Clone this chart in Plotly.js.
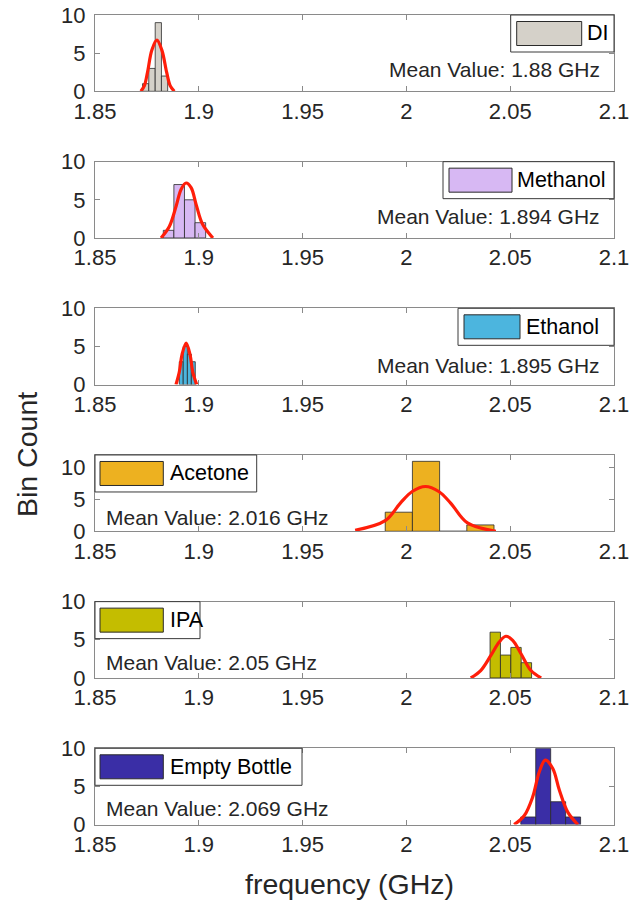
<!DOCTYPE html>
<html><head><meta charset="utf-8">
<script src="https://cdn.plot.ly/plotly-3.0.1.min.js"></script>
<style>html,body{margin:0;padding:0;background:#fff}</style>
</head><body><div id="chart" style="width:631px;height:905px"></div>
<script>
// ---------- data ----------
const sampleNames = ['DI', 'Methanol', 'Ethanol', 'Acetone', 'IPA', 'Empty Bottle'];
const meanLabels = ['Mean Value: 1.88 GHz', 'Mean Value: 1.894 GHz', 'Mean Value: 1.895 GHz',
                    'Mean Value: 2.016 GHz', 'Mean Value: 2.05 GHz', 'Mean Value: 2.069 GHz'];
const xTickVals = [1.85, 1.9, 1.95, 2, 2.05, 2.1];
const xTickText = ['1.85', '1.9', '1.95', '2', '2.05', '2.1'];
const yTickVals = [0, 5, 10];
const yTickText = ['0', '5', '10'];
const yMax = [10, 10, 10, 12, 10, 10];

// histogram bin edges (GHz) and counts
const diEdges = [1.8729, 1.8759, 1.8790, 1.8820, 1.8850];
const diCounts = [1, 3, 9, 2];
const methanolEdges = [1.8829, 1.8880, 1.8931, 1.8982, 1.9033];
const methanolCounts = [1, 7, 5, 2];
const ethanolEdges = [1.8906, 1.8925, 1.8945, 1.8964, 1.8983];
const ethanolCounts = [3, 5, 4, 3];
const acetoneEdges = [1.9898, 2.0029, 2.0160, 2.0291, 2.0422];
const acetoneCounts = [3, 11, 0, 1];
const ipaEdges = [2.0403, 2.0453, 2.0503, 2.0553, 2.0603];
const ipaCounts = [6, 3, 4, 2];
const emptyEdges = [2.0551, 2.0623, 2.0695, 2.0767, 2.0839];
const emptyCounts = [1, 10, 3, 1];

// fitted normal curves
const diFitX = [1.8721, 1.8738, 1.8753, 1.8774, 1.8798, 1.8822, 1.8845, 1.8862, 1.8882];
const diFitY = [0, 0.75, 2.5, 5.4, 6.7, 5.4, 2.5, 0.75, 0];
const methanolFitX = [1.8818, 1.8858, 1.8891, 1.8915, 1.8939, 1.8963, 1.8987, 1.9019, 1.9068];
const methanolFitY = [0, 1.5, 4.2, 6.4, 7.2, 6.6, 4.4, 1.75, 0];
const ethanolFitX = [1.8890, 1.8906, 1.8919, 1.8939, 1.8958, 1.8971, 1.8990];
const ethanolFitY = [0, 1.65, 3.9, 5.45, 3.9, 1.65, 0];
const acetoneFitX = [1.9753, 1.9898, 1.9971, 2.0028, 2.0092, 2.0156, 2.0213, 2.0294, 2.0431];
const acetoneFitY = [0.16, 1.67, 4.44, 6.26, 7.04, 6.26, 4.44, 1.31, 0];
const ipaFitX = [2.0310, 2.0358, 2.0407, 2.0447, 2.0479, 2.0512, 2.0552, 2.0600, 2.0649];
const ipaFitY = [0, 0.97, 2.95, 4.7, 5.46, 4.93, 3.17, 0.97, 0];
const emptyFitX = [2.0519, 2.0568, 2.0608, 2.0640, 2.0669, 2.0705, 2.0737, 2.0778, 2.0826];
const emptyFitY = [0, 1.19, 3.6, 6.9, 8.45, 7.36, 4.5, 1.6, 0];

const barColors = ['#d5d1c9', '#d7b8f3', '#4cb5de', '#edb120', '#c4bd00', '#3a2ea6'];

// ---------- build ----------
const allEdges = [diEdges, methanolEdges, ethanolEdges, acetoneEdges, ipaEdges, emptyEdges];
const allCounts = [diCounts, methanolCounts, ethanolCounts, acetoneCounts, ipaCounts, emptyCounts];
const allFitX = [diFitX, methanolFitX, ethanolFitX, acetoneFitX, ipaFitX, emptyFitX];
const allFitY = [diFitY, methanolFitY, ethanolFitY, acetoneFitY, ipaFitY, emptyFitY];

const FONT = 'Liberation Sans, Arial, Helvetica, sans-serif';
const TXT = '#262626';
const W = 631, H = 905;
const L = 95, R = 17, T = 15, B = 80;
const PW = W - L - R, PH = H - T - B;
const px2x = p => (p - L) / PW;
const py2y = p => (H - B - p) / PH;
const step = 146.66, axH = 76.3;

const traces = [];
const layout = {
  width: W, height: H,
  margin: {l: L, r: R, t: T, b: B},
  paper_bgcolor: '#fff', plot_bgcolor: '#fff',
  showlegend: false, bargap: 0,
  font: {family: FONT, color: TXT, size: 22},
  shapes: [], annotations: []
};

for (let k = 0; k < 6; k++) {
  const s = k === 0 ? '' : String(k + 1);
  const edges = allEdges[k];
  const centers = [], widths = [];
  for (let i = 0; i < edges.length - 1; i++) {
    centers.push((edges[i] + edges[i + 1]) / 2);
    widths.push(edges[i + 1] - edges[i]);
  }
  traces.push({
    type: 'bar', x: centers, y: allCounts[k], width: widths,
    xaxis: 'x' + s, yaxis: 'y' + s, name: sampleNames[k],
    marker: {color: barColors[k], line: {color: '#2a2a2a', width: 0.8}},
    hoverinfo: 'x+y'
  });
  traces.push({
    type: 'scatter', mode: 'lines', x: allFitX[k], y: allFitY[k],
    xaxis: 'x' + s, yaxis: 'y' + s, name: sampleNames[k] + ' fit',
    line: {color: '#ff1e0a', width: 3.2, shape: 'spline', smoothing: 1.0},
    hoverinfo: 'skip'
  });

  const top = T + k * step, bot = top + axH;
  layout['xaxis' + s] = {
    anchor: 'y' + s, domain: [0, 1], range: [1.85, 2.1],
    tickvals: xTickVals, ticktext: xTickText,
    ticks: 'inside', ticklen: 5, tickwidth: 1, tickcolor: '#8a8a8a',
    showline: true, linecolor: '#8a8a8a', linewidth: 1, mirror: 'ticks',
    showgrid: false, zeroline: false,
    tickfont: {size: 22, color: TXT, family: FONT}
  };
  layout['yaxis' + s] = {
    anchor: 'x' + s, domain: [py2y(bot), py2y(top)], range: [0, yMax[k]],
    tickvals: yTickVals, ticktext: yTickText,
    ticks: 'inside', ticklen: 5, tickwidth: 1, tickcolor: '#8a8a8a',
    showline: true, linecolor: '#8a8a8a', linewidth: 1, mirror: 'ticks',
    showgrid: false, zeroline: false, ticklabelstandoff: 4,
    tickfont: {size: 22, color: TXT, family: FONT}
  };
}

// legends (drawn as boxes) and mean-value labels
const legBoxes = [
  // [left, right, patchLeft, patchRight, labelLeft]
  [510.7, 614, 516.7, 581.7, 585],
  [443, 614, 449, 512, 515],
  [458, 614, 464, 520, 524],
  [95, 256.7, 100, 163.3, 168],
  [95, 200, 100, 163.3, 168],
  [95, 302, 100, 163.3, 168]
];
const meanPos = [
  ['right', 602, 55], ['right', 602, 55], ['right', 602, 57],
  ['left', 104, 63], ['left', 104, 61], ['left', 104, 60]
];
for (let k = 0; k < 6; k++) {
  const top = T + k * step;
  const b = legBoxes[k];
  layout.shapes.push({type: 'rect', xref: 'paper', yref: 'paper',
    x0: px2x(b[0]), x1: px2x(b[1]), y0: py2y(top + 37), y1: py2y(top),
    line: {color: '#3a3a3a', width: 1}, fillcolor: '#ffffff', layer: 'above'});
  layout.shapes.push({type: 'rect', xref: 'paper', yref: 'paper',
    x0: px2x(b[2]), x1: px2x(b[3]), y0: py2y(top + 30.5), y1: py2y(top + 6.5),
    line: {color: '#2a2a2a', width: 1}, fillcolor: barColors[k], layer: 'above'});
  layout.annotations.push({xref: 'paper', yref: 'paper', x: px2x(b[4]), y: py2y(top + 18.5),
    xanchor: 'left', yanchor: 'middle', showarrow: false, text: sampleNames[k],
    font: {size: 21.5, color: '#000', family: FONT}});
  const m = meanPos[k];
  layout.annotations.push({xref: 'paper', yref: 'paper', x: px2x(m[1]), y: py2y(top + m[2]),
    xanchor: m[0], yanchor: 'middle', showarrow: false, text: meanLabels[k],
    font: {size: 21, color: TXT, family: FONT}});
}
layout.annotations.push({xref: 'paper', yref: 'paper', x: px2x(27), y: py2y(455),
  xanchor: 'center', yanchor: 'middle', textangle: -90, showarrow: false,
  text: 'Bin Count', font: {size: 28.5, color: TXT, family: FONT}});
layout.annotations.push({xref: 'paper', yref: 'paper', x: px2x(349), y: py2y(884),
  xanchor: 'center', yanchor: 'middle', showarrow: false,
  text: 'frequency (GHz)', font: {size: 28.5, color: TXT, family: FONT}});

Plotly.newPlot('chart', traces, layout, {displayModeBar: false, staticPlot: true});
</script>
</body></html>
